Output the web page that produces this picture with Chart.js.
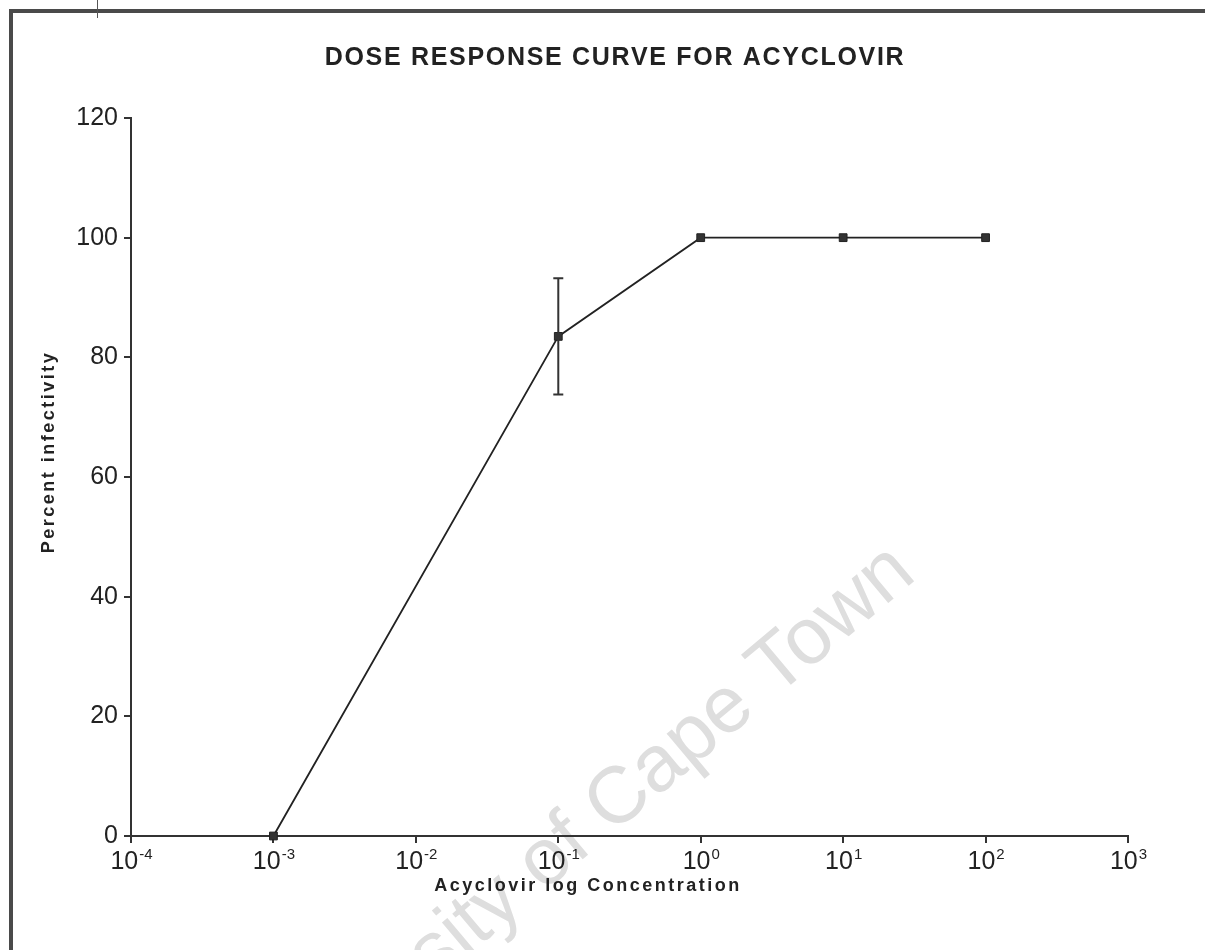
<!DOCTYPE html>
<html>
<head>
<meta charset="utf-8">
<title>Dose response curve for acyclovir</title>
<script src="https://cdn.jsdelivr.net/npm/chart.js@4.4.1/dist/chart.umd.min.js"></script>
<style>
  html, body { margin: 0; padding: 0; background: #fff; }
  #wrap { position: relative; width: 1205px; height: 950px; overflow: hidden; }
  #wrap canvas { position: absolute; left: 0; top: 0; }
  #frame {
    position: absolute; left: 9px; top: 9px; width: 1300px; height: 1000px;
    border-left: 4px solid #4a4a4a; border-top: 4px solid #4a4a4a;
  }
  #notch { position: absolute; left: 97px; top: 0; width: 1px; height: 18px; background: #555; }
</style>
</head>
<body>
<div id="wrap">
  <canvas id="dose-chart" width="1205" height="950"></canvas>
  <div id="frame"></div>
  <div id="notch"></div>
</div>
<script>
const FONT = '"Liberation Sans", Arial, sans-serif';

// acyclovir concentration vs. percent infectivity
const concentrations = [0.001, 0.1, 1, 10, 100];
const percentInfectivity = [0, 83.5, 100, 100, 100];
const errorSize = [0, 9.7, 0, 0, 0];

const xTickExponents = [-4, -3, -2, -1, 0, 1, 2, 3];
const yTickStep = 20;

const chartTitle = "DOSE RESPONSE CURVE FOR ACYCLOVIR";
const xTitle = "Acyclovir log Concentration";
const yTitle = "Percent infectivity";
const watermarkText = "University of Cape Town";

const watermark = {
  id: "watermark",
  beforeDraw(chart) {
    const ctx = chart.ctx;
    ctx.save();
    ctx.font = "80px " + FONT;
    ctx.fillStyle = "#dedede";
    ctx.textAlign = "right";
    ctx.textBaseline = "alphabetic";
    ctx.translate(918, 578);
    ctx.rotate(-40 * Math.PI / 180);
    ctx.fillText(watermarkText, 0, 0);
    ctx.restore();
  },
};

const errorBars = {
  id: "errorBars",
  afterDatasetsDraw(chart) {
    const { ctx, scales: { x, y } } = chart;
    ctx.save();
    ctx.strokeStyle = "#333";
    ctx.lineWidth = 2;
    concentrations.forEach((c, i) => {
      if (!errorSize[i]) return;
      const px = x.getPixelForValue(c);
      const top = y.getPixelForValue(percentInfectivity[i] + errorSize[i]);
      const bot = y.getPixelForValue(percentInfectivity[i] - errorSize[i]);
      ctx.beginPath();
      ctx.moveTo(px, top);
      ctx.lineTo(px, bot);
      ctx.moveTo(px - 5, top);
      ctx.lineTo(px + 5, top);
      ctx.moveTo(px - 5, bot);
      ctx.lineTo(px + 5, bot);
      ctx.stroke();
    });
    ctx.restore();
  },
};

// title, power-of-ten tick labels and spaced axis titles
const axisText = {
  id: "axisText",
  afterDraw(chart) {
    const { ctx, chartArea, scales: { x } } = chart;
    ctx.save();
    ctx.fillStyle = "#222";

    ctx.font = "bold 25px " + FONT;
    ctx.letterSpacing = "1.7px";
    ctx.textAlign = "center";
    ctx.textBaseline = "middle";
    ctx.fillText(chartTitle, 615, 58);
    ctx.letterSpacing = "0px";

    ctx.textBaseline = "alphabetic";
    ctx.textAlign = "left";
    const base = chartArea.bottom + 33;
    xTickExponents.forEach((e) => {
      const px = x.getPixelForValue(Math.pow(10, e));
      ctx.font = "25px " + FONT;
      const bw = ctx.measureText("10").width;
      ctx.font = "15px " + FONT;
      const sw = ctx.measureText(String(e)).width;
      const left = px - (bw + sw) / 2;
      ctx.font = "25px " + FONT;
      ctx.fillText("10", left, base);
      ctx.font = "15px " + FONT;
      ctx.fillText(String(e), left + bw + 1, base - 10);
    });

    ctx.font = "bold 18px " + FONT;
    ctx.letterSpacing = "2.5px";
    ctx.textAlign = "center";
    ctx.textBaseline = "middle";
    ctx.fillText(xTitle, 588, chartArea.bottom + 50);
    ctx.translate(49, 452);
    ctx.rotate(-Math.PI / 2);
    ctx.fillText(yTitle, 0, 0);
    ctx.restore();
  },
};

const ctx = document.getElementById("dose-chart").getContext("2d");
new Chart(ctx, {
  type: "line",
  data: {
    datasets: [
      {
        label: "Percent infectivity",
        data: concentrations.map((c, i) => ({ x: c, y: percentInfectivity[i] })),
        borderColor: "#222",
        borderWidth: 1.8,
        pointStyle: "rect",
        pointRadius: 5.5,
        pointBackgroundColor: "#333",
        pointBorderColor: "#222",
        pointBorderWidth: 1,
        tension: 0,
        clip: false,
      },
    ],
  },
  options: {
    responsive: false,
    animation: false,
    layout: { padding: { left: 0, right: 77, top: 118, bottom: 0 } },
    plugins: {
      legend: { display: false },
      tooltip: { enabled: false },
      title: { display: false },
    },
    scales: {
      x: {
        type: "logarithmic",
        min: 1e-4,
        max: 1e3,
        afterBuildTicks: (s) => {
          s.ticks = xTickExponents.map((e) => ({ value: Math.pow(10, e), major: true }));
        },
        afterFit: (s) => { s.height = 114; },
        ticks: { autoSkip: false, maxRotation: 0, callback: () => "" },
        grid: { drawOnChartArea: false, tickLength: 7, color: "#333", lineWidth: 2 },
        border: { color: "#333", width: 2 },
      },
      y: {
        min: 0,
        max: 120,
        afterFit: (s) => { s.width = 131; },
        ticks: {
          stepSize: yTickStep,
          color: "#222",
          padding: 6,
          font: { family: FONT, size: 25 },
        },
        grid: { drawOnChartArea: false, tickLength: 7, color: "#333", lineWidth: 2 },
        border: { color: "#333", width: 2 },
      },
    },
  },
  plugins: [watermark, errorBars, axisText],
});
</script>
</body>
</html>
